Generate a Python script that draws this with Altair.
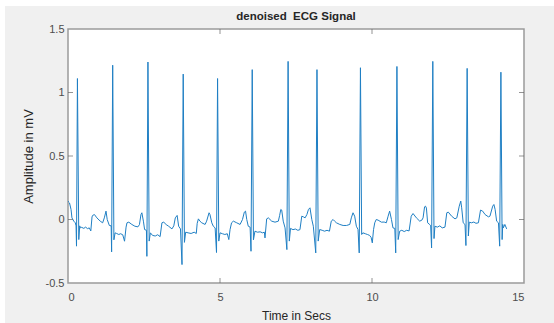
import altair as alt
import pandas as pd

# ECG trace (seconds, mV)
time_s = [
    0.00, 0.02, 0.05, 0.10, 0.13, 0.19, 0.24, 0.265, 0.28, 0.31, 0.355, 0.385, 0.41,
    0.45, 0.52, 0.58, 0.64, 0.70, 0.75, 0.79, 0.81, 0.87, 0.95, 1.06, 1.14, 1.195, 1.25, 1.29, 1.36, 1.42,
    1.435, 1.47, 1.51,
    1.55, 1.60, 1.67, 1.73, 1.80, 1.86, 1.91, 1.94, 2.00, 2.10, 2.20, 2.30, 2.35, 2.40, 2.43, 2.48, 2.52, 2.58,
    2.595, 2.63, 2.67,
    2.71, 2.78, 2.87, 2.95, 3.03, 3.09, 3.15, 3.23, 3.31, 3.42, 3.48, 3.53, 3.59, 3.64, 3.70,
    3.75, 3.79, 3.83,
    3.87, 3.95, 4.05, 4.15, 4.22, 4.25, 4.29, 4.34, 4.40, 4.51, 4.56, 4.64, 4.67, 4.73, 4.78, 4.84,
    4.885, 4.92, 4.96,
    5.00, 5.08, 5.16, 5.24, 5.29, 5.33, 5.38, 5.44, 5.55, 5.66, 5.74, 5.80, 5.84, 5.88, 5.93, 5.99,
    6.02, 6.06, 6.10,
    6.15, 6.23, 6.32, 6.40, 6.46, 6.48, 6.535, 6.59, 6.70, 6.81, 6.92, 6.96, 7.00, 7.03, 7.08, 7.14,
    7.20, 7.24, 7.28,
    7.32, 7.40, 7.48, 7.56, 7.63, 7.69, 7.75, 7.80, 7.86, 7.91, 7.96, 8.02, 8.07,
    8.15, 8.19, 8.23,
    8.28, 8.36, 8.44, 8.52, 8.60, 8.66, 8.72, 8.77, 8.83, 8.94, 9.05, 9.16, 9.27, 9.32, 9.375, 9.43, 9.485, 9.54,
    9.58, 9.62, 9.66,
    9.70, 9.78, 9.85, 9.92, 9.97, 10.01, 10.05, 10.09, 10.14, 10.20, 10.31, 10.40, 10.47, 10.53, 10.58, 10.64, 10.69, 10.75,
    10.78, 10.82, 10.86,
    10.91, 10.98, 11.06, 11.14, 11.22, 11.29, 11.35, 11.46, 11.57, 11.64, 11.68, 11.73, 11.76, 11.79, 11.83, 11.90, 11.93,
    11.96, 12.00, 12.04,
    12.07, 12.15, 12.23, 12.31, 12.40, 12.46, 12.51, 12.62, 12.73, 12.79, 12.87, 12.92, 12.95, 13.00, 13.06,
    13.09, 13.13, 13.17,
    13.20, 13.27, 13.35, 13.42, 13.50, 13.57, 13.64, 13.72, 13.83, 13.88, 13.97, 14.01, 14.05, 14.10, 14.16,
    14.20, 14.24, 14.28,
    14.30, 14.32, 14.37, 14.43,
]
amplitude_mv = [
    0.145, 0.137, 0.13, 0.079, 0.013, -0.013, -0.026, -0.05, -0.21, 1.11, -0.158, -0.05, -0.066,
    -0.062, -0.07, -0.06, -0.072, -0.066, -0.09, 0.02, 0.032, 0.039, 0.013, -0.013, -0.026, 0.013, 0.066, 0.0, -0.047, -0.05,
    -0.255, 1.215, -0.16,
    -0.105, -0.11, -0.118, -0.112, -0.12, -0.171, -0.06, -0.026, -0.021, -0.039, -0.053, -0.058, -0.04, 0.039, 0.053, -0.013, -0.079, -0.085,
    -0.29, 1.24, -0.17,
    -0.105, -0.125, -0.13, -0.12, -0.135, -0.026, -0.021, -0.04, -0.053, -0.074, -0.05, 0.013, 0.032, -0.053, -0.074,
    -0.355, 1.145, -0.18,
    -0.10, -0.105, -0.11, -0.10, -0.11, -0.03, 0.005, -0.013, -0.026, -0.039, -0.013, 0.053, 0.039, -0.026, -0.053, -0.066,
    -0.26, 1.11, -0.17,
    -0.105, -0.112, -0.118, -0.112, -0.158, -0.08, -0.026, -0.013, -0.026, -0.039, 0.0, 0.058, 0.066, 0.0, -0.053, -0.06,
    -0.25, 1.18, -0.16,
    -0.092, -0.10, -0.097, -0.105, -0.10, -0.145, 0.005, 0.013, -0.013, -0.021, -0.013, 0.03, 0.079, 0.074, -0.013, -0.066,
    -0.237, 1.245, -0.17,
    -0.07, -0.08, -0.075, -0.085, -0.08, 0.026, 0.02, 0.013, 0.04, 0.079, 0.092, 0.0, -0.053,
    -0.263, 1.18, -0.17,
    -0.079, -0.085, -0.092, -0.085, -0.092, -0.013, 0.0, -0.013, -0.026, -0.039, -0.047, -0.047, -0.039, 0.013, 0.053, 0.026, -0.053, -0.079,
    -0.263, 1.195, -0.118,
    -0.105, -0.112, -0.118, -0.125, -0.14, -0.184, -0.08, -0.026, 0.0, -0.005, -0.021, -0.02, -0.026, 0.026, 0.066, 0.0, -0.066, -0.07,
    -0.263, 1.205, -0.158,
    -0.092, -0.085, -0.095, -0.085, -0.09, 0.026, 0.047, 0.013, -0.013, -0.005, 0.013, 0.10, 0.105, 0.09, -0.026, -0.04, -0.05,
    -0.224, 1.245, -0.15,
    -0.053, -0.06, -0.05, -0.066, -0.06, 0.053, 0.058, 0.026, 0.005, 0.013, 0.105, 0.145, 0.092, -0.026, -0.04,
    -0.205, 1.19, -0.13,
    -0.021, -0.026, -0.02, -0.03, -0.026, 0.074, 0.066, 0.039, 0.021, 0.026, 0.105, 0.118, 0.079, -0.013, -0.026,
    -0.21, 1.16, -0.158,
    -0.039, -0.066, -0.039, -0.074,
]
x_ticks = [0, 5, 10, 15]
y_ticks = [-0.5, 0, 0.5, 1, 1.5]
title_text = ["denoised\u00a0 ECG Signal"]

W, H = 456, 254
PAD_L, PAD_T, PAD_R, PAD_B = 68, 29, 30, 40
FONT = "Liberation Sans"

df = pd.DataFrame({"t": time_s, "v": amplitude_mv})
xs = alt.Scale(domain=[0, 15], nice=False, zero=False)
ys = alt.Scale(domain=[-0.5, 1.5], nice=False, zero=False)

line = alt.Chart(df).mark_line(color="#1f7fc4", strokeWidth=1, clip=True).encode(
    x=alt.X("t:Q", scale=xs, axis=alt.Axis(values=x_ticks, title="Time in Secs",
                                           labelPadding=8, titlePadding=8,
                                           labelExpr="'' + datum.value")),
    y=alt.Y("v:Q", scale=ys, axis=alt.Axis(values=y_ticks, title="Amplitude in mV",
                                           labelPadding=4, titlePadding=10, titleFontSize=13,
                                           labelExpr="'' + datum.value")),
)

xt = pd.DataFrame({"t": x_ticks[1:-1]})
yt = pd.DataFrame({"v": y_ticks[1:-1]})
tick_color = "#666666"
bottom_ticks = alt.Chart(xt).mark_tick(color=tick_color, size=5, thickness=1, orient="vertical").encode(
    x=alt.X("t:Q", scale=xs), y=alt.value(H - 2.5))
top_ticks = alt.Chart(xt).mark_tick(color=tick_color, size=5, thickness=1, orient="vertical").encode(
    x=alt.X("t:Q", scale=xs), y=alt.value(2.5))
left_ticks = alt.Chart(yt).mark_tick(color=tick_color, size=5, thickness=1, orient="horizontal").encode(
    y=alt.Y("v:Q", scale=ys), x=alt.value(2.5))
right_ticks = alt.Chart(yt).mark_tick(color=tick_color, size=5, thickness=1, orient="horizontal").encode(
    y=alt.Y("v:Q", scale=ys), x=alt.value(W - 2.5))

# white screenshot margins along the top and left edges
one = pd.DataFrame({"k": [0]})
top_strip = alt.Chart(one).mark_rect(color="white").encode(
    x=alt.value(-PAD_L), x2=alt.value(W + PAD_R), y=alt.value(-PAD_T), y2=alt.value(-PAD_T + 6))
left_strip = alt.Chart(one).mark_rect(color="white").encode(
    x=alt.value(-PAD_L), x2=alt.value(-PAD_L + 5), y=alt.value(-PAD_T), y2=alt.value(H + PAD_B))

title = alt.Chart(pd.DataFrame({"label": title_text})).mark_text(
    font=FONT, fontSize=11.5, fontWeight="bold", color="#262626", align="center", baseline="middle"
).encode(text="label:N", x=alt.value(W / 2), y=alt.value(-12))

chart = alt.layer(top_strip, left_strip, line, bottom_ticks, top_ticks, left_ticks, right_ticks, title).properties(
    width=W, height=H,
    background="#f0f0f0",
    padding={"left": PAD_L, "top": PAD_T, "right": PAD_R, "bottom": PAD_B},
    autosize=alt.AutoSizeParams(type="none"),
).configure_view(
    fill="white", stroke="#9a9a9a", strokeWidth=1.5
).configure_axis(
    domain=False, ticks=False, grid=False,
    labelFont=FONT, labelFontSize=11, labelColor="#4d4d4d",
    titleFont=FONT, titleFontSize=12, titleColor="#262626", titleFontWeight="normal",
)

chart.save("out.html", embed_options={"renderer": "svg", "actions": False})
